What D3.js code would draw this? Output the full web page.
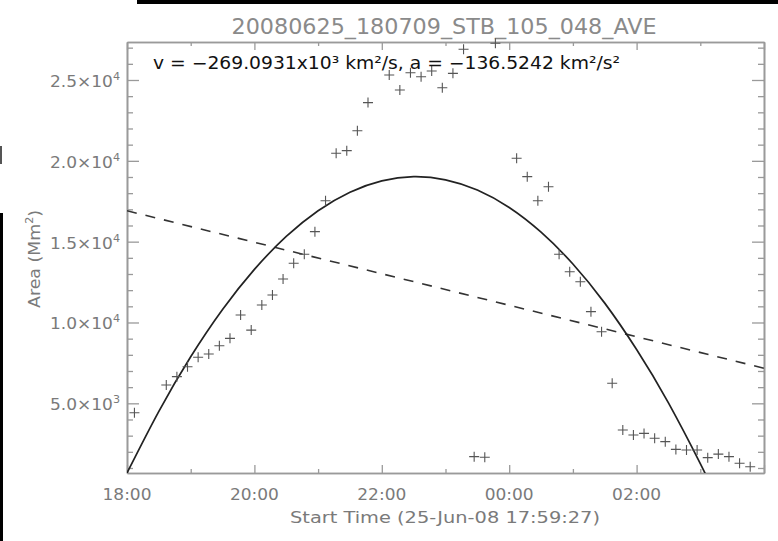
<!DOCTYPE html>
<html><head><meta charset="utf-8">
<script src="https://cdn.jsdelivr.net/npm/d3@7"></script>
<style>
body{margin:0;background:#fff}
svg{display:block}
text{font-family:"DejaVu Sans","Liberation Sans",sans-serif}
</style>
</head><body>
<svg id="c" width="778" height="541"></svg>
<script>
// ---- data ----
const titleText = "20080625_180709_STB_105_048_AVE";
const xLabelText = "Start Time (25-Jun-08 17:59:27)";
const obsTimes = ["18:07","18:37","18:47","18:57","19:07","19:17","19:27","19:37","19:47","19:57",
  "20:07","20:17","20:27","20:37","20:47","20:57","21:07","21:17","21:27","21:37","21:47",
  "22:07","22:17","22:27","22:37","22:47","22:57","23:07","23:17","23:27","23:37","23:47",
  "00:07","00:17","00:27","00:37","00:47","00:57","01:07","01:17","01:27","01:37","01:47","01:57",
  "02:07","02:17","02:27","02:37","02:47","02:57","03:07","03:17","03:27","03:37","03:47"];
const obsArea = [4420,6130,6650,7260,7850,8050,8560,9020,10460,9530,
  11080,11700,12690,13660,14220,15620,17530,20470,20630,21860,23600,
  25310,24380,25450,25200,25560,24520,25410,26900,1700,1660,27270,
  20160,19020,17530,18400,14220,13140,12520,10670,9430,6240,3350,3040,
  3140,2840,2630,2150,2110,2110,1640,1860,1700,1290,1080];
const fitTimes = ["18:00","18:30","19:00","19:30","20:00","20:30","21:00","21:30","22:00","22:30",
  "23:00","23:30","00:00","00:30","01:00","01:30","02:00","02:30","03:00","03:04"];
const fitArea = [690,4505,7877,10803,13283,15324,16914,18059,18761,19017,
  18826,18192,17112,15584,13617,11198,8334,5031,1276,690];
const linTimes = ["18:00","04:00"];
const linArea = [16910,7170];
const xDomain = ["18:00","04:00"];
const yDomain = [690,27350];
const xMajorTicks = ["18:00","20:00","22:00","00:00","02:00","04:00"];
const xTickLabels = ["18:00","20:00","22:00","00:00","02:00",""];
const xMinorTicks = ["19:00","21:00","23:00","01:00","03:00"];
const yMajorTicks = [5000,10000,15000,20000,25000];
const yTickMantissa = ["5.0","1.0","1.5","2.0","2.5"];
const yTickExp = ["3","4","4","4","4"];
const yMinorTicks = [1000,2000,3000,4000,6000,7000,8000,9000,11000,12000,13000,14000,16000,17000,18000,19000,21000,22000,23000,24000,26000,27000];
const annotation = "v = \u2212269.0931x10\u00B3 km\u00B2/s, a = \u2212136.5242 km\u00B2/s\u00B2";

// ---- helpers ----
function toDate(s){const [h,m]=s.split(":").map(Number);const day=h<12?26:25;return new Date(Date.UTC(2008,5,day,h,m));}

const L=127,R=764,T=42,B=473;
const svg=d3.select("#c");
svg.append("rect").attr("width",778).attr("height",541).attr("fill","#fff");

// scan borders
svg.append("rect").attr("x",137).attr("y",0).attr("width",641).attr("height",4).attr("fill","#000");
svg.append("rect").attr("x",0).attr("y",213).attr("width",3).attr("height",328).attr("fill","#000");
svg.append("rect").attr("x",0).attr("y",146).attr("width",2).attr("height",18).attr("fill","#555");

const x=d3.scaleUtc().domain(xDomain.map(toDate)).range([L,R]);
const y=d3.scaleLinear().domain(yDomain).range([B,T]);

const axisColor="#9a9a9a", labelColor="#7a7a7a";

function styleAxis(g){
  g.selectAll("path.domain").attr("stroke",axisColor).attr("stroke-width",1.6);
  g.selectAll(".tick line").attr("stroke",axisColor).attr("stroke-width",1.3);
  g.selectAll(".tick text").remove();
}

// y axes
svg.append("g").attr("transform",`translate(${L},0)`)
  .call(d3.axisLeft(y).tickValues(yMajorTicks).tickSize(-12).tickSizeOuter(0).tickFormat("")).call(styleAxis);
svg.append("g").attr("transform",`translate(${L},0)`)
  .call(d3.axisLeft(y).tickValues(yMinorTicks).tickSize(-6).tickSizeOuter(0).tickFormat("")).call(styleAxis);
svg.append("g").attr("transform",`translate(${R},0)`)
  .call(d3.axisRight(y).tickValues(yMajorTicks).tickSize(-12).tickSizeOuter(0).tickFormat("")).call(styleAxis);
svg.append("g").attr("transform",`translate(${R},0)`)
  .call(d3.axisRight(y).tickValues(yMinorTicks).tickSize(-6).tickSizeOuter(0).tickFormat("")).call(styleAxis);

// x axes
svg.append("g").attr("transform",`translate(0,${B})`)
  .call(d3.axisBottom(x).tickValues(xMajorTicks.map(toDate)).tickSize(-8).tickSizeOuter(0).tickFormat("")).call(styleAxis);
svg.append("g").attr("transform",`translate(0,${B})`)
  .call(d3.axisBottom(x).tickValues(xMinorTicks.map(toDate)).tickSize(-4).tickSizeOuter(0).tickFormat("")).call(styleAxis);
svg.append("g").attr("transform",`translate(0,${T})`)
  .call(d3.axisTop(x).tickValues(xMajorTicks.map(toDate)).tickSize(-8).tickSizeOuter(0).tickFormat("")).call(styleAxis);
svg.append("g").attr("transform",`translate(0,${T})`)
  .call(d3.axisTop(x).tickValues(xMinorTicks.map(toDate)).tickSize(-4).tickSizeOuter(0).tickFormat("")).call(styleAxis);

// y tick labels
yMajorTicks.forEach((v,i)=>{
  const t=svg.append("text").attr("x",50).attr("y",y(v)+7)
    .attr("fill",labelColor).attr("font-size",16).attr("textLength",70).attr("lengthAdjust","spacingAndGlyphs");
  t.append("tspan").text(yTickMantissa[i]+"\u00D710");
  t.append("tspan").attr("dy",-7).attr("font-size",10.5).text(yTickExp[i]);
});
// x tick labels
xMajorTicks.forEach((s,i)=>{
  if(!xTickLabels[i]) return;
  svg.append("text").attr("x",x(toDate(s))).attr("y",500).attr("text-anchor","middle")
    .attr("fill",labelColor).attr("font-size",16.5).attr("textLength",49).attr("lengthAdjust","spacingAndGlyphs").text(xTickLabels[i]);
});

// axis titles
svg.append("text").attr("x",445).attr("y",523).attr("text-anchor","middle")
  .attr("fill",labelColor).attr("font-size",16.5).attr("textLength",310).attr("lengthAdjust","spacingAndGlyphs").text(xLabelText);
const yl=svg.append("text").attr("transform","translate(40,259) rotate(-90)").attr("text-anchor","middle")
  .attr("fill",labelColor).attr("font-size",16.5).attr("textLength",98).attr("lengthAdjust","spacingAndGlyphs");
yl.append("tspan").text("Area (Mm");
yl.append("tspan").attr("dy",-7).attr("font-size",10.5).text("2");
yl.append("tspan").attr("dy",7).text(")");

// title
svg.append("text").attr("x",444).attr("y",34).attr("text-anchor","middle")
  .attr("fill","#8a8a8a").attr("font-size",20.5).attr("textLength",425).attr("lengthAdjust","spacingAndGlyphs").text(titleText);

// clip
svg.append("clipPath").attr("id","clip").append("rect").attr("x",L).attr("y",T).attr("width",R-L).attr("height",B-T);
const plot=svg.append("g").attr("clip-path","url(#clip)");

// linear fit (dashed)
plot.append("path").datum(linTimes.map((t,i)=>[toDate(t),linArea[i]]))
  .attr("d",d3.line().x(d=>x(d[0])).y(d=>y(d[1])))
  .attr("fill","none").attr("stroke","#333").attr("stroke-width",1.6).attr("stroke-dasharray","10,9");

// quadratic fit (solid)
plot.append("path").datum(fitTimes.map((t,i)=>[toDate(t),fitArea[i]]))
  .attr("d",d3.line().x(d=>x(d[0])).y(d=>y(d[1])).curve(d3.curveNatural))
  .attr("fill","none").attr("stroke","#222").attr("stroke-width",1.7);

// observations (+)
svg.append("g").selectAll("path").data(obsTimes.map((t,i)=>[toDate(t),obsArea[i]])).join("path")
  .attr("d",d=>{const px=x(d[0]),py=y(d[1]);return `M${px-5},${py}h10M${px},${py-5}v10`;})
  .attr("fill","none").attr("stroke","#555").attr("stroke-width",1.1);

// annotation
svg.append("text").attr("x",153).attr("y",69).attr("fill","#111").attr("font-size",17)
  .attr("textLength",467).attr("lengthAdjust","spacingAndGlyphs").text(annotation);
</script>
</body></html>
